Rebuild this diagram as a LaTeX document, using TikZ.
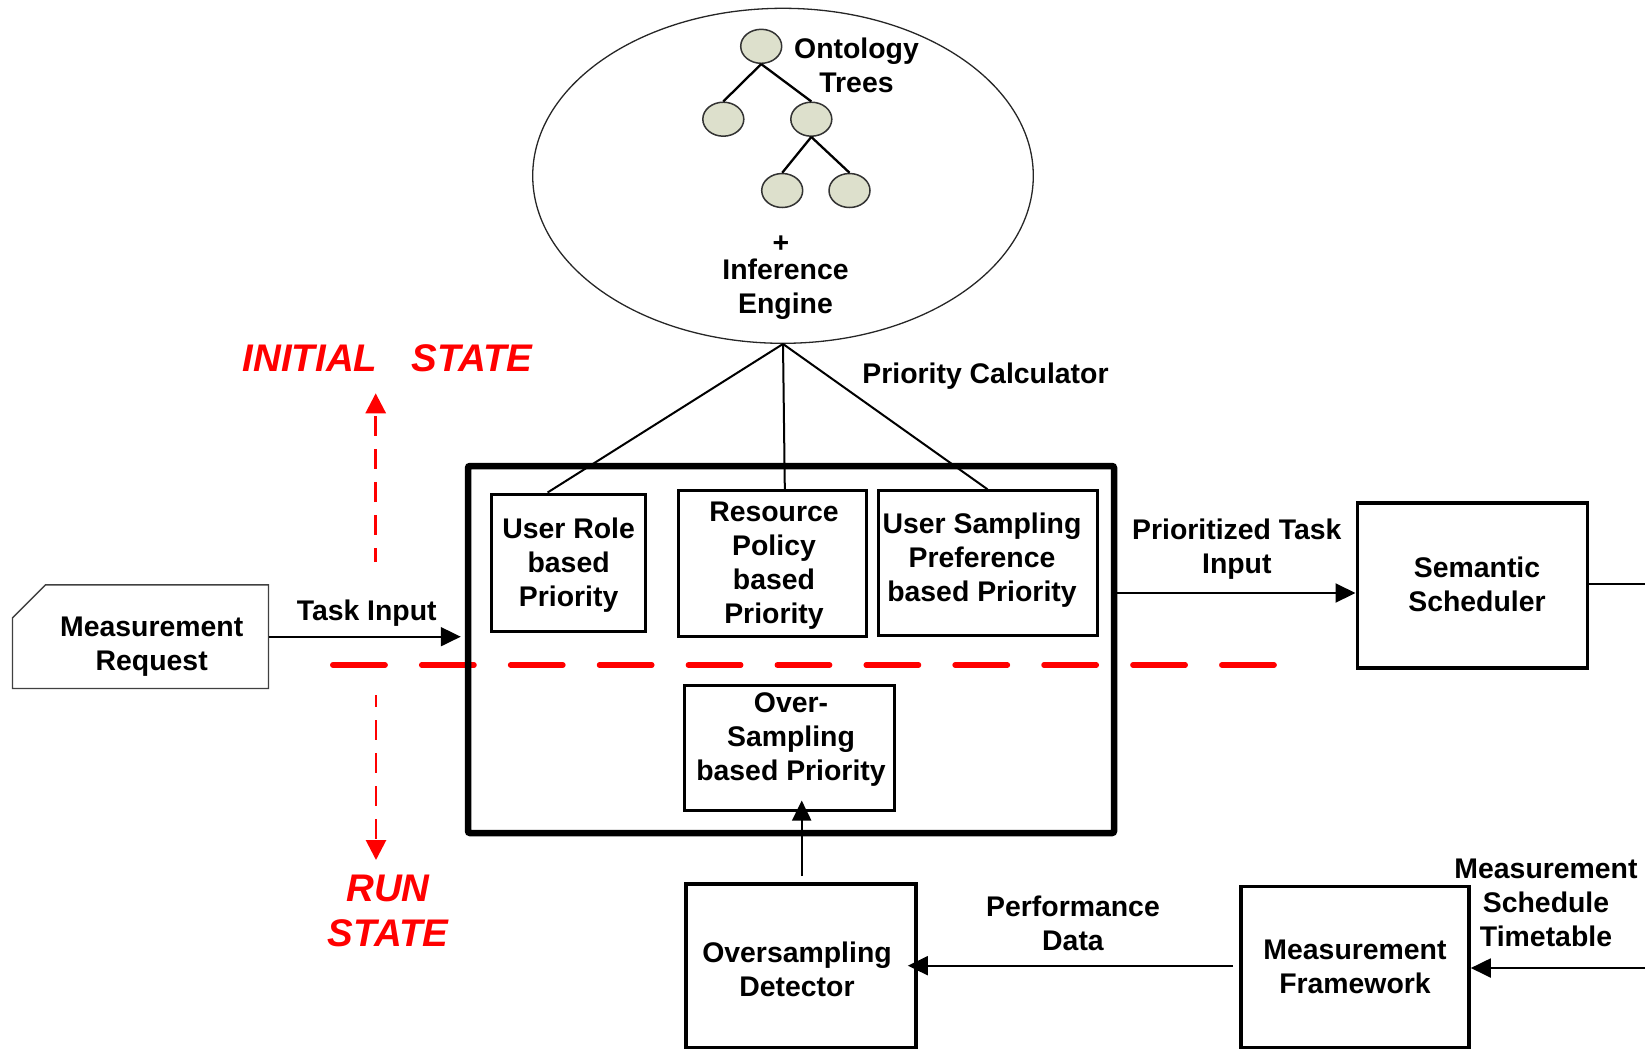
\documentclass[tikz,border=0pt]{standalone}
\usepackage{fontspec}
\setmainfont{Liberation Sans}
\usetikzlibrary{arrows.meta,calc,shapes.geometric}

\definecolor{leaf}{RGB}{221,224,204}
\definecolor{statered}{RGB}{255,0,0}

\begin{document}
\begin{tikzpicture}[x=1pt,y=-1pt,
  lbl/.style={font=\fontsize{28.4}{34}\selectfont\bfseries, align=center, inner sep=0pt},
  redlbl/.style={font=\fontsize{38.5}{45}\selectfont\bfseries\itshape, text=statered, align=center, inner sep=0pt},
  block/.style={draw, line width=3pt},
  bigblock/.style={draw, line width=3.6pt},
  leafnode/.style={draw=black!80, fill=leaf, ellipse, line width=1.5pt, minimum width=41pt, minimum height=34pt, inner sep=0pt},
  treeedge/.style={line width=2.3pt},
  link/.style={line width=2pt},
  arr/.style={line width=2pt, -{Triangle[length=20pt,width=19pt]}},
  statearrow/.style={draw=statered, line width=2.8pt, dash pattern=on 20pt off 13pt, -{Triangle[length=20pt,width=20pt]}},
  boundary/.style={draw=statered, line width=5.4pt, line cap=round, dash pattern=on 52.4pt off 36.5pt}
]
\useasboundingbox (0,0) rectangle (1645,1050);

% initial / run state boundary
\coordinate (bndL) at (332.75,665);
\coordinate (bndR) at (1274.2,665);
\draw[boundary] (bndL) -- (bndR);

% ontology + inference engine
\node[draw=black!85, ellipse, line width=1.3pt, minimum width=500.6pt, minimum height=335pt] (onto) at (783,175.8) {};
\node[leafnode] (t0) at (761.2,46.3) {};
\node[leafnode] (t1) at (723.3,119.2) {};
\node[leafnode] (t2) at (811.3,119.2) {};
\node[leafnode] (t3) at (782.2,190.5) {};
\node[leafnode] (t4) at (849.5,190.5) {};
\draw[treeedge] (t0.south) -- (t1.north);
\draw[treeedge] (t0.south) -- (t2.north);
\draw[treeedge] (t2.south) -- (t3.north);
\draw[treeedge] (t2.south) -- (t4.north);
\node[lbl] (ontolbl) at (856.5,65.5) {Ontology\\Trees};
\node[lbl] (plus) at (781,244) {+};
\node[lbl] (inflbl) at (785.5,289) {Inference\\Engine};

% priority calculator
\node[draw, line width=6.5pt, rounded corners=2pt, minimum width=646pt, minimum height=367pt] (pc) at (791,649.5) {};
\node[block, minimum width=154pt, minimum height=137pt] (ur) at (568,562.5) {};
\node[lbl] (urtext) at (568.6,565.5) {User Role\\based\\Priority};
\node[block, minimum width=188pt, minimum height=146pt] (rp) at (772.4,563.7) {};
\node[lbl] (rptext) at (774,565.5) {Resource\\Policy\\based\\Priority};
\node[block, minimum width=219pt, minimum height=145pt] (us) at (987.5,563.3) {};
\node[lbl] (ustext) at (982,560) {User Sampling\\Preference\\based Priority};
\node[block, minimum width=209.5pt, minimum height=125pt] (os) at (789.7,747.5) {};
\node[lbl] (ostext) at (791,739.5) {Over-\\Sampling\\based Priority};
\node[lbl] (pclbl) at (985.5,376.5) {Priority Calculator};

\draw[link] (onto.south) -- ($(ur.north west)!0.37!(ur.north east)$);
\draw[link] (onto.south) -- ($(rp.north west)!0.565!(rp.north east)$);
\draw[link] (onto.south) -- (us.north);

% measurement request
\node[minimum width=255.6pt, minimum height=103.3pt, inner sep=0pt] (mr) at (140.5,636.7) {};
\draw[black!75, line width=1.3pt] (mr.south west) -- (mr.south east) -- (mr.north east)
  -- ($(mr.north west)+(33,0)$) -- ($(mr.north west)+(0,33)$) -- cycle;
\node[lbl] (mrtext) at (151.7,647) {Measurement\\Request};
\draw[arr, shorten >=4pt] (mr.east) -- (mr.east -| pc.west);
\node[lbl] (tasklbl) at (366.7,613.5) {Task Input};

% scheduler
\node[bigblock, minimum width=230pt, minimum height=165pt] (ss) at (1472.3,585.5) {};
\node[lbl] (sstext) at (1477,584) {Semantic\\Scheduler};
\coordinate (ssrow) at (0,593);
\draw[arr] (pc.east |- ssrow) -- (ss.west |- ssrow);
\node[lbl] (ptlbl) at (1236.8,549) {Prioritized Task\\Input};
\coordinate (rightedge) at (1645,584.3);
\draw[link] (ss.east |- rightedge) -- (rightedge);

% measurement framework and oversampling detector
\node[bigblock, minimum width=228pt, minimum height=161pt] (mf) at (1355,967) {};
\node[lbl] (mftext) at (1355,967) {Measurement\\Framework};
\node[bigblock, minimum width=230.3pt, minimum height=163.5pt] (od) at (800.9,965.7) {};
\node[lbl] (odtext) at (797,969) {Oversampling\\Detector};
\coordinate (timetable) at (1645,968);
\draw[arr] (timetable) -- (timetable -| mf.east);
\node[lbl] (mstlbl) at (1546,903) {Measurement\\Schedule\\Timetable};
\draw[arr, shorten <=6pt, shorten >=-10pt] (mf.west |- od.east) -- (od.east);
\node[lbl] (pdlbl) at (1073,923.5) {Performance\\Data};
\coordinate (odcol) at (801.7,0);
\draw[arr, shorten <=6pt, shorten >=-11pt] (od.north -| odcol) -- (os.south -| odcol);

% state markers
\coordinate (upfrom) at (375.7,561.7);
\coordinate (upto) at (375.7,393.3);
\draw[statearrow, dash phase=6pt] (upfrom) -- (upto);
\coordinate (downfrom) at (376,695);
\coordinate (downto) at (376,860);
\draw[statearrow, dash phase=8pt] (downfrom) -- (downto);
\node[redlbl] (initlbl) at (387.5,358) {INITIAL\hspace{0.9em}STATE};
\node[redlbl] (runlbl) at (388,911) {RUN\\STATE};
\end{tikzpicture}
\end{document}
